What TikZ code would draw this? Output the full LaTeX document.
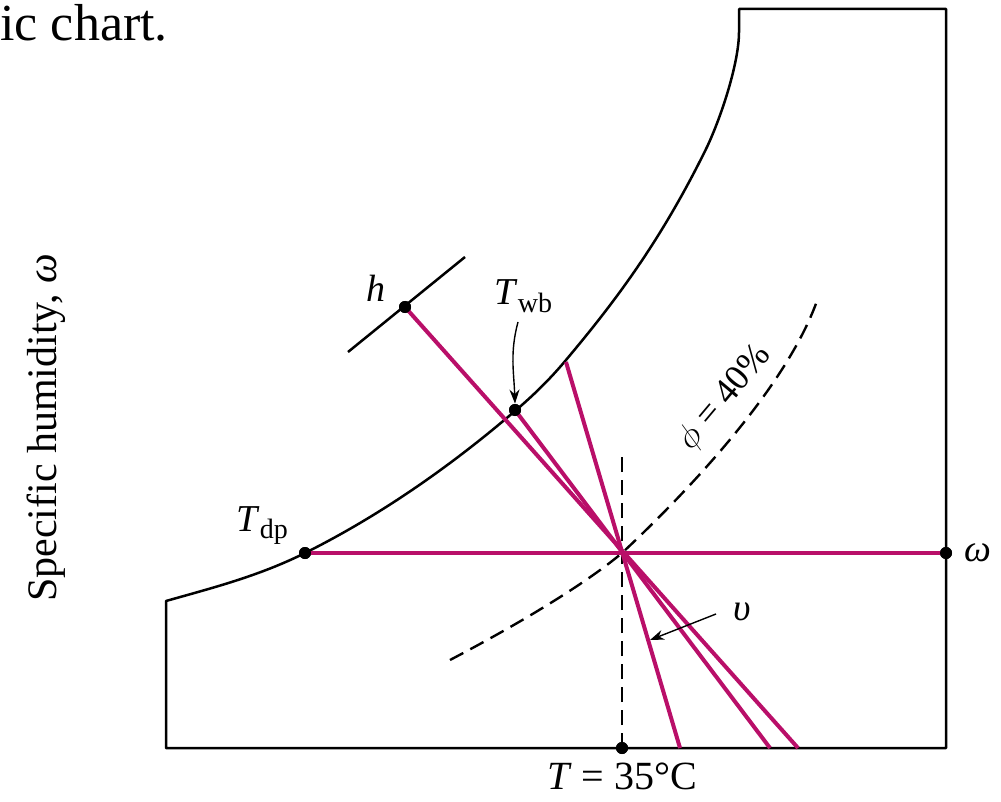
\documentclass[tikz,border=0pt]{standalone}
\usepackage{fontspec}
\setmainfont{Liberation Serif}
\usetikzlibrary{arrows.meta}
\definecolor{psypink}{RGB}{185,15,105}
\tikzset{
  frame/.style={line width=1.25pt, line join=round},
  prop/.style={psypink, line width=2pt},
  guide/.style={line width=1.2pt, dash pattern=on 7.5pt off 4pt},
  dot/.style={circle, fill=black, inner sep=0pt, minimum size=6pt},
  lbl/.style={font=\fontsize{19}{22}\selectfont, inner sep=0pt},
  pointer/.style={line width=0.7pt, -{Stealth[length=7pt,width=5pt]}},
}
\newcommand\mysub[1]{\raisebox{-0.45ex}{\fontsize{14}{14}\selectfont #1}}
\begin{document}
\begin{tikzpicture}[x=0.5pt,y=-0.5pt]
\useasboundingbox (0,0) rectangle (1001,802);
% title fragment and axis label
\node[anchor=base west, inner sep=0pt, font=\fontsize{26}{30}\selectfont] (title) at (0,41) {ic chart.};
\node[rotate=90, inner sep=0pt, font=\fontsize{21}{24}\selectfont] (ylab) at (46,428) {Specific humidity, \textit{ω}};
% chart frame with saturation curve
\coordinate (cA) at (166,601);
\coordinate (cB) at (305,553);
\coordinate (cC) at (515,411);
\coordinate (cD) at (566,360);
\coordinate (cE) at (707,147);
\coordinate (cF) at (739,32);
\coordinate (cG) at (739,9);
\coordinate (c2) at (166,748);
\coordinate (c3) at (946,748);
\coordinate (c4) at (946,9);
\draw[frame] (cA) .. controls (212,588) and (259,576) .. (cB)
  .. controls (375,518) and (445,471) .. (cC)
  .. controls (532,396.5) and (549,380.4) .. (cD)
  .. controls (613,304) and (660,243) .. (cE)
  .. controls (722,115) and (739,62) .. (cF)
  -- (cG) -- (c4) -- (c3) -- (c2) -- cycle;
% points
\coordinate (S) at (622,553);
\coordinate (hend) at (798,748);
\coordinate (wbend) at (770,748);
\coordinate (vtop) at (566,362);
\coordinate (vend) at (680,748);
\coordinate (hlA) at (348,352);
\coordinate (hlB) at (465,257);
\coordinate (vd) at (622,455);
\node[dot] (hdot) at (405,307) {};
\node[dot] (wbdot) at (515,410) {};
\node[dot] (dpdot) at (305,553) {};
\node[dot] (wdot) at (946,553) {};
\node[dot] (Tdot) at (622,748) {};
% guide lines
\draw[frame] (hlA) -- (hlB);
\draw[guide] (Tdot.center) -- (vd);
\draw[guide] (450,660) .. controls (530,618) and (590,580) .. (S)
  .. controls (700,480) and (790,380) .. (818,298);
% property lines
\draw[prop] (dpdot.center) -- (wdot.center);
\draw[prop] (hdot.center) -- (hend);
\draw[prop] (wbdot.center) -- (wbend);
\draw[prop] (vtop) -- (vend);
% redraw dots on top
\node[dot] at (hdot) {};
\node[dot] at (wbdot) {};
\node[dot] at (dpdot) {};
\node[dot] at (wdot) {};
\node[dot] at (Tdot) {};
% labels
\node[lbl] (hl) at (376,288) {\textit{h}};
\node[lbl, anchor=base west] (wbl) at (494,305) {\textit{T}\mysub{wb}};
\coordinate (wbarrow) at (518,322);
\draw[pointer] (wbarrow) to[out=-105,in=92] (wbdot.north);
\node[lbl, anchor=base west] (dpl) at (236,531) {\textit{T}\mysub{dp}};
\node[lbl, anchor=west] (wl) at (964,553) {\textit{ω}};
\node[lbl] (vl) at (742,612) {\textit{υ}};
\coordinate (varrow) at (716,614);
\coordinate (vtip) at (650,640);
\draw[pointer] (varrow) -- (vtip);
\node[lbl, rotate=50, font=\fontsize{18}{22}\selectfont] (phil) at (725,398) {$\phi$ = 40\%};
\node[inner sep=0pt, font=\fontsize{20}{24}\selectfont] (Tl) at (622,776) {\textit{T} = 35°C};
\end{tikzpicture}
\end{document}
